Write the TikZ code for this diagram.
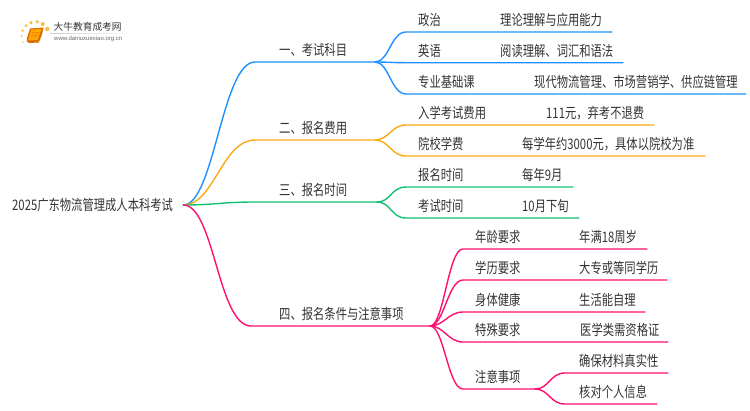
\documentclass[tikz,border=0pt]{standalone}
\usepackage{fontspec}
\setmainfont{Noto Sans CJK SC}
\newfontfamily\stretchfont[FakeStretch=0.78]{Noto Sans CJK SC}
\newfontfamily\urlfont{Liberation Sans}
\definecolor{cblue}{HTML}{1E90FF}
\definecolor{corange}{HTML}{FBA913}
\definecolor{cgreen}{HTML}{13C270}
\definecolor{cpink}{HTML}{FF1070}
\definecolor{ctext}{HTML}{333333}
\definecolor{cdot}{HTML}{F8BE45}
\tikzset{
	txt/.style={anchor=west,inner sep=0pt,text=ctext},
	link/.style={line width=1.4pt},
}
\begin{document}
\begin{tikzpicture}[x=1pt, y=-1pt, line join=round, line cap=round, font=\stretchfont\fontsize{14.5}{16}\selectfont]
	\useasboundingbox (0,0) rectangle (750,410);
	\def \dy{12} %Chữ nằm trên đường
	%Logo
	\foreach \x/\y/\r in {23/42/0.8,21.7/36/1,22.7/30.7/1.3,26/25.7/1.6,31/22.7/1.8,37.3/21.7/1.9,42.7/24/2,47.3/29/2.2}
	\fill[cdot] (\x,\y) circle (\r);
	\fill[orange!85!black] (30,28.5) -- (43.5,27.5) .. controls (42.5,34) and (40.5,39) .. (38.5,42.5) -- (29,43) .. controls (26,43) and (26.5,40) .. (27,38) -- cycle;
	\fill[orange!70!yellow] (31,29.5) -- (41.5,29) -- (37.5,40) -- (28,40.5) -- cycle;
	\draw[orange!85!black,line width=0.6pt] (32,33) -- (38,32.7) (31,36) -- (37,35.7);
	\node[anchor=west,inner sep=0pt,text=ctext,font=\rmfamily\fontsize{9.7}{11}\selectfont] (logoname) at (53.5,27) {大牛教育成考网};
	\shade[left color=black!20,right color=white] (50,33) rectangle (133,33.6);
	\node[anchor=west,inner sep=0pt,text=black!60,font=\urlfont\fontsize{6}{7}\selectfont] (logourl) at (54,38.7) {www.daniuxuexiao.org.cn};
	%Gốc
	\node[txt,inner xsep=10pt] (root) at (2,205) {2025广东物流管理成人本科考试};
	%Nhánh chính
	\foreach \n/\col/\xa/\ya/\xe/\ye/\lab in {
		one/cblue/255/62/375/62/一、考试科目,
		two/corange/255/140/375/140/二、报名费用,
		three/cgreen/255/202/377/202/三、报名时间,
		four/cpink/251/326/430/326/四、报名条件与注意事项}
	{
		\coordinate (\n a) at (\xa,\ya);
		\coordinate (\n) at (\xe,\ye);
		\draw[link,\col] (root.east) .. controls +(31,0) and +(-33,0) .. (\n a) -- (\n);
		\node[txt] (\n l) at (279,\ya-\dy) {\lab};
	}
	%Nhánh con
	\foreach \n/\h/\col/\xa/\y/\xe/\xl/\xv/\lab/\val in {
		aa/one/cblue/406/32/612/418/500/政治/理论理解与应用能力,
		ab/one/cblue/406/62.7/623/418/500/英语/阅读理解、词汇和语法,
		ac/one/cblue/406/94/746/418/534/专业基础课/现代物流管理、市场营销学、供应链管理,
		ba/two/corange/406/125/654/418/546/入学考试费用/111元，弃考不退费,
		bb/two/corange/406/156/705/418/522/院校学费/每学年约3000元，具体以院校为准,
		ca/three/cgreen/406/187/573/418/522/报名时间/每年9月,
		cb/three/cgreen/406/218/579/418/522/考试时间/10月下旬,
		da/four/cpink/463/249/647/475/579/年龄要求/年满18周岁,
		db/four/cpink/463/280/667/475/579/学历要求/大专或等同学历,
		dc/four/cpink/463/312/645/475/579/身体健康/生活能自理,
		dd/four/cpink/463/342/668/475/580/特殊要求/医学类需资格证}
	{
		\coordinate (\n a) at (\xa,\y);
		\coordinate (\n e) at (\xe,\y);
		\draw[link,\col] (\h) .. controls +(14,0) and +(-15,0) .. (\n a) -- (\n e);
		\node[txt] (\n l) at (\xl,\y-\dy) {\lab};
		\node[txt] (\n v) at (\xv,\y-\dy) {\val};
	}
	%Chú ý
	\coordinate (dea) at (463,389);
	\coordinate (de) at (535,389);
	\draw[link,cpink] (four) .. controls +(14,0) and +(-15,0) .. (dea) -- (de);
	\node[txt] (del) at (475,377) {注意事项};
	\foreach \n/\y/\xe/\val in {dea/373/668/确保材料真实性,deb/404/657/核对个人信息}
	{
		\coordinate (\n a) at (565,\y);
		\coordinate (\n e) at (\xe,\y);
		\draw[link,cpink] (de) .. controls +(14,0) and +(-15,0) .. (\n a) -- (\n e);
		\node[txt] (\n v) at (579,\y-\dy) {\val};
	}
\end{tikzpicture}
\end{document}
